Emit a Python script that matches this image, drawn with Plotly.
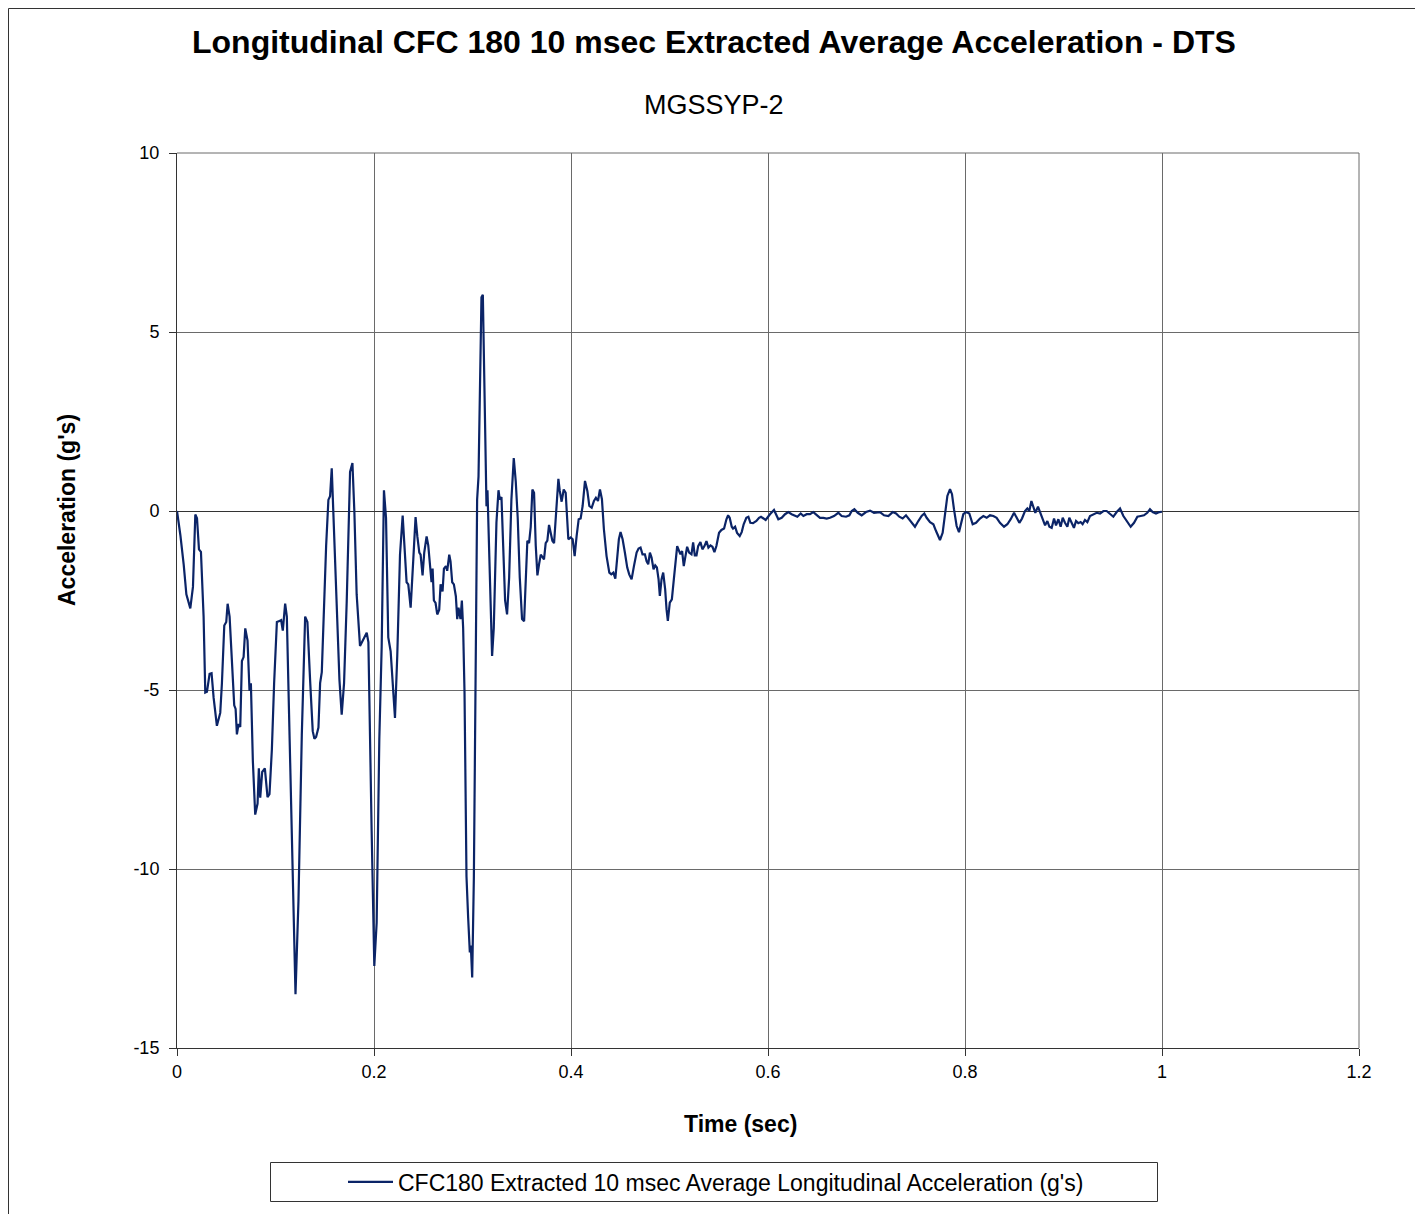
import plotly.graph_objects as go

# Time (sec)
t_seg1 = [0, 0.0034, 0.0068, 0.0095, 0.0135, 0.0162, 0.0186, 0.0203, 0.0223, 0.0243, 0.027, 0.0287, 0.0304,
          0.0331, 0.0351, 0.0372, 0.0405, 0.0439, 0.0456, 0.048, 0.05, 0.0514, 0.0534, 0.0557, 0.0581, 0.0595,
          0.0608, 0.0625, 0.0642, 0.0659, 0.0676, 0.0693, 0.0716, 0.0736, 0.075, 0.077, 0.0794, 0.0818, 0.0831,
          0.0845, 0.0865, 0.0892, 0.0919, 0.0939, 0.0963, 0.0986, 0.1014, 0.104, 0.1057, 0.1074, 0.1098, 0.1115,
          0.1132, 0.1155, 0.1182, 0.1203, 0.1233, 0.1267, 0.1301, 0.1324, 0.1351, 0.1378, 0.1395, 0.1412, 0.1436,
          0.1453, 0.147, 0.1493, 0.1514, 0.1537, 0.1554, 0.1571, 0.1588, 0.1622, 0.1649, 0.1672, 0.1696, 0.1723,
          0.1757, 0.1781, 0.1801, 0.1824, 0.1858]
a_seg1 = [0, -0.67, -1.5, -2.33, -2.72, -2.12, -0.1, -0.2, -1.07, -1.14, -2.95, -5.07, -5.05,
          -4.55, -4.53, -5.22, -6.0, -5.64, -4.81, -3.2, -3.1, -2.59, -2.95, -4.19, -5.43, -5.53,
          -6.24, -5.95, -6.03, -4.19, -4.08, -3.28, -3.62, -5.02, -4.81, -6.98, -8.48, -8.17, -7.19,
          -8.01, -7.29, -7.19, -7.99, -7.91, -6.67, -4.81, -3.1, -3.07, -3.05, -3.34, -2.59, -2.95,
          -5.02, -8.32, -11.43, -13.5, -10.9, -6.26, -2.95, -3.1, -4.71, -6.15, -6.36, -6.31, -6.05,
          -4.81, -4.5, -2.33, -0.98, 0.31, 0.41, 1.19, -0.05, -2.43, -4.71, -5.69, -4.81, -2.53,
          1.09, 1.34, -0.05, -2.33, -3.77]

t_seg2 = [0.1926, 0.1943, 0.1976, 0.2003, 0.2027, 0.2054, 0.2078, 0.2101, 0.2122, 0.2145, 0.2169, 0.2196,
          0.2213, 0.2236, 0.2264, 0.2291, 0.2314, 0.2331, 0.2348, 0.2372, 0.2399, 0.2422, 0.244, 0.246, 0.2473,
          0.2493, 0.251, 0.2534, 0.2551, 0.2568, 0.2584, 0.2595, 0.2608, 0.2625, 0.2642, 0.2662, 0.2676, 0.2696,
          0.271, 0.273, 0.2743, 0.2764, 0.2777, 0.2794, 0.2811, 0.2831, 0.2845, 0.2858, 0.2878, 0.2892, 0.2905,
          0.2919, 0.2939, 0.2956, 0.2973, 0.2983, 0.2997, 0.3014, 0.303, 0.3047, 0.3061, 0.3074, 0.3091, 0.3105,
          0.3118, 0.3132, 0.3142, 0.3152, 0.3166, 0.3182, 0.3199, 0.3216, 0.323, 0.3243, 0.3264, 0.3277, 0.3294,
          0.3311, 0.3331, 0.3351, 0.3372, 0.3395, 0.3419, 0.3439, 0.3459, 0.348, 0.3503, 0.3524, 0.3541, 0.3557,
          0.3574, 0.3591, 0.3608, 0.3625, 0.3642, 0.3659, 0.3676, 0.3693, 0.3709, 0.3726, 0.3743, 0.376, 0.3777,
          0.3794, 0.3811, 0.3828, 0.3851, 0.3872, 0.3885, 0.3905, 0.3926, 0.3946]
a_seg2 = [-3.4, -3.66, -8.93, -12.71, -11.5, -6.36, -3.79, 0.58, -0.19, -3.53, -3.92, -5.07,
          -5.78, -4.05, -1.22, -0.13, -1.09, -1.99, -2.05, -2.7, -1.35, -0.17, -0.71, -1.16, -1.22,
          -1.8, -1.16, -0.71, -0.96, -1.61, -1.99, -1.61, -2.5, -2.57, -2.89, -2.76, -2.05, -2.25,
          -1.61, -1.54, -1.67, -1.22, -1.41, -1.99, -2.05, -2.38, -3.02, -2.7, -3.02, -2.5, -3.27,
          -5.07, -10.21, -11.37, -12.33, -12.14, -13.03, -10.21, -5.07, 0.32, 0.96, 3.27, 5.97, 6.04,
          3.92, 1.35, 0.13, 0.58, -0.96, -2.76, -4.05, -3.27, -1.86, -0.32, 0.58, 0.32, 0.39,
          -1.09, -2.5, -2.89, -1.86, 0.32, 1.48, 0.83, -0.19, -1.86, -3.02, -3.08, -1.86, -0.83,
          -0.9, -0.45, 0.6, 0.51, -0.96, -1.8, -1.48, -1.22, -1.28, -1.35, -0.9, -0.83, -0.39,
          -0.64, -0.83, -0.9, 0.06, 0.9, 0.58, 0.26, 0.6, 0.51]

t_seg3 = [0.3973, 0.3997, 0.4017, 0.4037, 0.4057, 0.4078, 0.4098, 0.4118, 0.4142, 0.4166, 0.4186, 0.421,
          0.4233, 0.4253, 0.4274, 0.4294, 0.4314, 0.4334, 0.4361, 0.4389, 0.4409, 0.443, 0.445, 0.447, 0.4486,
          0.4503, 0.4524, 0.4547, 0.4571, 0.4591, 0.4615, 0.4639, 0.4666, 0.4686, 0.4706, 0.4726, 0.475, 0.4767,
          0.4784, 0.4801, 0.4818, 0.4838, 0.4855, 0.4872, 0.4889, 0.4902, 0.4919, 0.4936, 0.4956, 0.497, 0.4983,
          0.5003, 0.5024, 0.5044, 0.5064, 0.5078, 0.5091, 0.5111, 0.5128, 0.5145, 0.5162, 0.5179, 0.5199, 0.5223,
          0.524, 0.5257, 0.5274, 0.5291, 0.5314, 0.5334, 0.5355, 0.5375, 0.5395, 0.5416, 0.5436, 0.5456, 0.5476,
          0.5503, 0.5527, 0.5554, 0.5578, 0.5595, 0.5611, 0.5632, 0.5645, 0.5666, 0.5686, 0.5713, 0.5733, 0.5753,
          0.578, 0.5801, 0.5821, 0.5848, 0.5882, 0.5909, 0.5929, 0.5949, 0.5976]
a_seg3 = [-0.79, -0.74, -0.79, -1.26, -0.7, -0.23, -0.21, 0.14, 0.84, 0.56, 0.14, 0.09,
          0.28, 0.37, 0.28, 0.6, 0.33, -0.51, -1.26, -1.72, -1.77, -1.72, -1.89, -1.26, -0.79,
          -0.59, -0.79, -1.16, -1.58, -1.77, -1.91, -1.54, -1.16, -1.05, -1.02, -1.21, -1.21, -1.4,
          -1.49, -1.16, -1.3, -1.63, -1.52, -1.58, -1.91, -2.37, -1.91, -1.72, -2.19, -2.75, -3.07,
          -2.56, -2.47, -1.91, -1.35, -0.98, -1.07, -1.21, -1.12, -1.54, -1.26, -1.0, -1.16, -1.21,
          -0.88, -1.24, -1.24, -0.98, -0.87, -1.07, -0.98, -0.84, -1.02, -0.96, -1.0, -1.15, -0.98,
          -0.61, -0.53, -0.49, -0.23, -0.12, -0.19, -0.44, -0.49, -0.44, -0.61, -0.7, -0.59, -0.37,
          -0.19, -0.16, -0.33, -0.34, -0.28, -0.19, -0.16, -0.2, -0.25]

t_seg4 = [0.602, 0.6061, 0.6105, 0.6139, 0.6173, 0.6206, 0.624, 0.6274, 0.6298, 0.6332, 0.6359, 0.6393,
          0.6426, 0.646, 0.6494, 0.6528, 0.6562, 0.6596, 0.663, 0.667, 0.6714, 0.6748, 0.6792, 0.6826, 0.685,
          0.6877, 0.6911, 0.6951, 0.6995, 0.7036, 0.7076, 0.711, 0.7137, 0.7178, 0.7222, 0.7266, 0.73, 0.7333,
          0.7367, 0.7401, 0.7435, 0.7459, 0.7492, 0.7526, 0.756, 0.7587, 0.7611, 0.7645, 0.7679, 0.7706, 0.7746,
          0.7773, 0.7797, 0.7821, 0.7848, 0.7868, 0.7888, 0.7915, 0.7939, 0.7959, 0.7983, 0.801, 0.8044, 0.8078,
          0.8112, 0.8152, 0.8186, 0.822, 0.8254, 0.8288, 0.8321, 0.8355, 0.8396, 0.843, 0.8464, 0.8498, 0.8525,
          0.8552, 0.8579, 0.8609, 0.8633, 0.8653, 0.8674, 0.8694, 0.8714, 0.8741, 0.8762, 0.8789, 0.8813, 0.8836,
          0.8857, 0.888, 0.8904, 0.8924, 0.8948, 0.8971, 0.8992, 0.9015, 0.9039, 0.9059, 0.9083, 0.9106, 0.9127,
          0.915, 0.9174, 0.9194, 0.9218, 0.9242, 0.9269, 0.9303, 0.9337, 0.9371, 0.9405, 0.9438, 0.9472, 0.9506,
          0.954, 0.9574, 0.9608, 0.9641, 0.9682, 0.9716, 0.975, 0.9784, 0.9817, 0.9851, 0.9878, 0.9905, 0.9939,
          0.9973, 1.0]
a_seg4 = [-0.09, 0.03, -0.23, -0.19, -0.09, -0.03, -0.09, -0.14, -0.16, -0.07, -0.14, -0.09,
          -0.09, -0.03, -0.12, -0.19, -0.19, -0.21, -0.19, -0.14, -0.05, -0.14, -0.16, -0.12, 0.0,
          0.05, -0.05, -0.12, -0.03, 0.01, -0.05, -0.05, -0.03, -0.12, -0.14, -0.03, -0.07, -0.16,
          -0.21, -0.12, -0.23, -0.33, -0.44, -0.28, -0.14, -0.07, -0.19, -0.31, -0.37, -0.56, -0.81,
          -0.61, -0.05, 0.42, 0.61, 0.47, 0.05, -0.42, -0.59, -0.33, -0.09, -0.03, -0.07, -0.37,
          -0.33, -0.21, -0.14, -0.19, -0.12, -0.14, -0.19, -0.33, -0.44, -0.37, -0.23, -0.05, -0.19,
          -0.33, -0.21, 0.0, 0.07, 0.0, 0.28, 0.14, -0.05, 0.12, -0.03, -0.28, -0.4, -0.28,
          -0.44, -0.47, -0.21, -0.4, -0.23, -0.44, -0.19, -0.33, -0.44, -0.19, -0.33, -0.47, -0.28,
          -0.34, -0.31, -0.37, -0.25, -0.31, -0.14, -0.09, -0.05, -0.07, 0.0, 0.0, -0.09, -0.16,
          -0.03, 0.07, -0.14, -0.28, -0.44, -0.33, -0.16, -0.14, -0.12, -0.05, 0.05, -0.03, -0.07,
          -0.03, -0.02]

time_sec = t_seg1 + t_seg2 + t_seg3 + t_seg4
accel_g = a_seg1 + a_seg2 + a_seg3 + a_seg4

x_ticks = [0, 0.2, 0.4, 0.6, 0.8, 1, 1.2]
x_ticklabels = ["0", "0.2", "0.4", "0.6", "0.8", "1", "1.2"]
y_ticks = [-15, -10, -5, 0, 5, 10]
y_ticklabels = ["-15", "-10", "-5", "0", "5", "10"]

FONT = "Liberation Sans, Arial, sans-serif"
LINE_COLOR = "#0b2467"
GRID = "#6a6a6a"

fig = go.Figure()
fig.add_trace(go.Scatter(
    x=time_sec, y=accel_g, mode="lines",
    line=dict(color=LINE_COLOR, width=2.2),
    name="CFC180 Extracted 10 msec Average Longitudinal Acceleration (g's)",
))

# The page body has an 8px margin, so the figure starts at screen (8, 8).
OFF = 8
W, H = 1423 - OFF, 1214 - OFF
L, T = 177 - OFF, 153 - OFF
R = W - (1359 - OFF)
B = H - (1048 - OFF)
pw, ph = W - L - R, H - T - B

def px_x(px):
    return (px - OFF - L) / pw

def px_y(py):
    return (H - B - (py - OFF)) / ph

fig.update_layout(
    width=W, height=H,
    margin=dict(l=L, r=R, t=T, b=B, autoexpand=False),
    paper_bgcolor="white", plot_bgcolor="white",
    font=dict(family=FONT, color="black"),
    showlegend=True,
    legend=dict(
        orientation="h", x=px_x(716), xanchor="center", y=px_y(1182), yanchor="middle",
        font=dict(size=23, family=FONT, color="black"),
        bgcolor="rgba(0,0,0,0)", borderwidth=0, itemwidth=45,
    ),
    xaxis=dict(
        range=[0, 1.2], tickvals=x_ticks, ticktext=x_ticklabels,
        showgrid=True, gridcolor=GRID, gridwidth=1,
        zeroline=False, showline=True, linecolor="#333333", linewidth=1,
        ticks="outside", ticklen=7, tickcolor="#333333", ticklabelstandoff=0,
        tickfont=dict(size=18, family=FONT, color="black"),
    ),
    yaxis=dict(
        range=[-15, 10], tickvals=y_ticks, ticktext=y_ticklabels,
        showgrid=True, gridcolor=GRID, gridwidth=1,
        zeroline=True, zerolinecolor="#333333", zerolinewidth=1,
        showline=True, linecolor="#333333", linewidth=1,
        ticks="outside", ticklen=7, tickcolor="#333333", ticklabelstandoff=6,
        tickfont=dict(size=18, family=FONT, color="black"),
    ),
)

annotations = [
    dict(text="<b>Longitudinal CFC 180 10 msec Extracted Average Acceleration - DTS</b>",
         x=px_x(714), y=px_y(42), font=dict(size=32, family=FONT, color="black")),
    dict(text="MGSSYP-2", x=px_x(714), y=px_y(105), font=dict(size=27, family=FONT, color="black")),
    dict(text="<b>Time (sec)</b>", x=px_x(740), y=px_y(1124), font=dict(size=23, family=FONT, color="black")),
    dict(text="<b>Acceleration (g's)</b>", x=px_x(67), y=px_y(510), textangle=-90,
         font=dict(size=23, family=FONT, color="black")),
]
for a in annotations:
    a.update(xref="paper", yref="paper", showarrow=False, xanchor="center", yanchor="middle")
fig.update_layout(annotations=annotations)

shapes = [
    # top and right plot borders
    dict(type="line", xref="paper", yref="paper", x0=0, x1=1, y0=1, y1=1, line=dict(color=GRID, width=1)),
    dict(type="line", xref="paper", yref="paper", x0=1, x1=1, y0=0, y1=1, line=dict(color=GRID, width=1)),
    # legend box
    dict(type="rect", xref="paper", yref="paper", x0=px_x(270.5), x1=px_x(1157.5), y0=px_y(1201.5), y1=px_y(1162.5),
         line=dict(color="#333333", width=1), fillcolor="rgba(0,0,0,0)"),
    # outer chart border
    dict(type="rect", xref="paper", yref="paper", x0=px_x(8.5), x1=px_x(1419.5), y0=px_y(1230), y1=px_y(8.5),
         line=dict(color="#333333", width=1), fillcolor="rgba(0,0,0,0)"),
]
fig.update_layout(shapes=shapes)

fig.write_html("out.html")
